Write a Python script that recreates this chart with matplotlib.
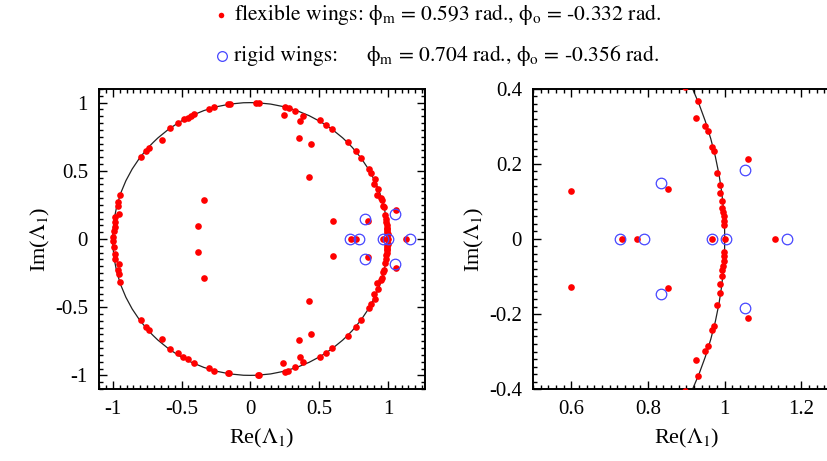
import matplotlib
matplotlib.use("Agg")
import matplotlib.pyplot as plt
from matplotlib.patches import Circle
from matplotlib.lines import Line2D
from matplotlib.ticker import MultipleLocator, FuncFormatter

plt.rcParams['font.family'] = ['Liberation Serif', 'DejaVu Serif']
plt.rcParams['mathtext.fontset'] = 'stix'

# ---- data: flexible wings (red dots) ----
flex_re = [
    0.045, 0.065, -0.150, -0.160, -0.262, -0.298, -0.407, -0.431, -0.456, -0.480,
    -0.529, -0.582, -0.642, -0.735, -0.759, -0.795, -0.945, -0.960, -0.965, -0.953,
    -0.982, -0.984, -0.982, -0.994, -0.996,
    -0.996, -0.989, -0.982, -0.982, -0.953, -0.965, -0.958, -0.945, -0.795, -0.759,
    -0.735, -0.642, -0.582, -0.529, -0.492, -0.456, -0.407, -0.298, -0.262, -0.153,
    -0.160, 0.053, 0.065,
    -0.340, -0.383, -0.383, -0.340,
    0.255, 0.279, 0.322, 0.380, 0.504, 0.553, 0.594, 0.710, 0.771, 0.807,
    0.861, 0.878, 0.904, 0.897,
    0.930, 0.924, 0.949, 0.957, 0.967, 0.972, 0.981, 0.987, 0.989, 0.992,
    0.994, 0.996, 0.997, 0.997, 0.998,
    0.242, 0.364, 0.356, 0.441, 0.424,
    0.600, 0.600, 0.733, 0.770, 0.853, 0.853, 0.968, 1.000, 1.061, 1.061, 1.130,
    0.998, 0.997, 0.997, 0.996, 0.994, 0.992, 0.989, 0.987, 0.981, 0.972,
    0.967, 0.957, 0.949, 0.924, 0.930,
    0.897, 0.904, 0.878, 0.863, 0.807, 0.771, 0.710, 0.594, 0.553, 0.504,
    0.380, 0.322, 0.272, 0.255,
    0.364, 0.238, 0.356, 0.441, 0.424,
]
flex_im = [
    0.999, 0.998, 0.988, 0.987, 0.965, 0.954, 0.913, 0.902, 0.890, 0.877,
    0.849, 0.813, 0.727, 0.670, 0.648, 0.600, 0.320, 0.268, 0.245, 0.182,
    0.163, 0.126, 0.090, 0.060, 0.017,
    -0.012, -0.061, -0.110, -0.146, -0.182, -0.231, -0.255, -0.316, -0.591, -0.645,
    -0.669, -0.730, -0.808, -0.839, -0.864, -0.881, -0.907, -0.949, -0.966, -0.983,
    -0.985, -0.998, -0.997,
    0.285, 0.095, -0.095, -0.287,
    0.969, 0.961, 0.937, 0.905, 0.869, 0.839, 0.803, 0.710, 0.645, 0.591,
    0.511, 0.485, 0.443, 0.405,
    0.367, 0.323, 0.302, 0.287, 0.245, 0.234, 0.176, 0.145, 0.123, 0.100,
    0.083, 0.071, 0.060, 0.047, 0.036,
    0.912, 0.864, 0.742, 0.698, 0.458,
    0.129, -0.128, 0.000, 0.000, 0.132, -0.132, 0.000, 0.000, 0.213, -0.212, 0.000,
    -0.036, -0.046, -0.060, -0.071, -0.084, -0.100, -0.119, -0.144, -0.175, -0.231,
    -0.244, -0.286, -0.300, -0.322, -0.364,
    -0.405, -0.440, -0.480, -0.508, -0.596, -0.645, -0.710, -0.803, -0.839, -0.864,
    -0.905, -0.937, -0.966, -0.973,
    -0.869, -0.912, -0.742, -0.698, -0.458,
]

# ---- data: rigid wings (blue open circles) ----
rigid_re = [0.726, 0.790, 0.835, 0.835, 0.967, 1.003, 1.053, 1.053, 1.163]
rigid_im = [0.000, 0.000, 0.148, -0.147, 0.000, 0.000, 0.183, -0.183, 0.000]

left_xticks = [-1, -0.5, 0, 0.5, 1]
left_yticks = [-1, -0.5, 0, 0.5, 1]
right_xticks = [0.6, 0.8, 1.0, 1.2]
right_yticks = [-0.4, -0.2, 0, 0.2, 0.4]

flex_label = ["flexible wings:", "0.593", "-0.332"]
rigid_label = ["rigid wings:", "0.704", "-0.356"]

RED = '#ff0000'
BLUE = '#4646ff'

W, H = 828, 461
fig = plt.figure(figsize=(W / 100, H / 100), dpi=100)


def fmt(v, pos):
    s = f"{v:g}"
    if s == "-0":
        s = "0"
    return s


def style(ax, minor):
    ax.xaxis.set_minor_locator(MultipleLocator(minor))
    ax.yaxis.set_minor_locator(MultipleLocator(minor))
    ax.xaxis.set_major_formatter(FuncFormatter(fmt))
    ax.yaxis.set_major_formatter(FuncFormatter(fmt))
    ax.tick_params(which='both', direction='in', top=True, right=True,
                   labelsize=15, pad=8, width=1.0, color='black')
    ax.tick_params(which='major', length=6)
    ax.tick_params(which='minor', length=3)
    for sp in ax.spines.values():
        sp.set_linewidth(1.4)
    ax.set_xlabel(r"Re($\mathrm{\Lambda}_\mathrm{1}$)", fontsize=16, labelpad=6)
    ax.set_ylabel(r"Im($\mathrm{\Lambda}_\mathrm{1}$)", fontsize=16, labelpad=2)


def draw(ax):
    ax.add_patch(Circle((0, 0), 1.0, fill=False, ec='#222222', lw=0.9, zorder=1))
    ax.plot(flex_re, flex_im, 'o', ms=4.8, color=RED, mec=RED, mew=0, zorder=3)
    ax.plot(rigid_re, rigid_im, 'o', ms=7.6, mfc='none', mec=BLUE, mew=0.9, zorder=4)


# left axes
axL = fig.add_axes([99 / W, (H - 389) / H, 326 / W, 300 / H])
draw(axL)
axL.set_xlim(-1.1, 1.27)
axL.set_ylim(-1.1, 1.1)
axL.set_xticks(left_xticks)
axL.set_yticks(left_yticks)
style(axL, 0.05)

# right axes (extends past figure edge like the cropped original)
axR = fig.add_axes([533 / W, (H - 389) / H, 306.7 / W, 300 / H])
draw(axR)
axR.set_xlim(0.5, 1.3)
axR.set_ylim(-0.4, 0.4)
axR.set_xticks(right_xticks)
axR.set_yticks(right_yticks)
style(axR, 0.02)


def phis(vm, vo):
    return (r"$\mathrm{\phi}_\mathrm{m}$ = " + vm + r" rad., "
            r"$\mathrm{\phi}_\mathrm{o}$ = " + vo + " rad.")


LEG_FONT = 'STIXGeneral'
LEG_SIZE = 15.6
# legend
fig.add_artist(Line2D([221 / W], [(H - 15) / H], transform=fig.transFigure,
                      marker='o', ms=4, color=RED, mew=0, ls='none'))
fig.add_artist(Line2D([222 / W], [(H - 56) / H], transform=fig.transFigure,
                      marker='o', ms=7, mfc='none', mec=BLUE, mew=0.9, ls='none'))
fig.text(234 / W, (H - 20) / H, flex_label[0] + " " + phis(flex_label[1], flex_label[2]),
         fontsize=LEG_SIZE, va='baseline', ha='left', family=LEG_FONT)
fig.text(234 / W, (H - 61) / H, rigid_label[0],
         fontsize=LEG_SIZE, va='baseline', ha='left', family=LEG_FONT)
fig.text(366 / W, (H - 61) / H, phis(rigid_label[1], rigid_label[2]),
         fontsize=LEG_SIZE, va='baseline', ha='left', family=LEG_FONT)

fig.savefig("out.png", dpi=100)
